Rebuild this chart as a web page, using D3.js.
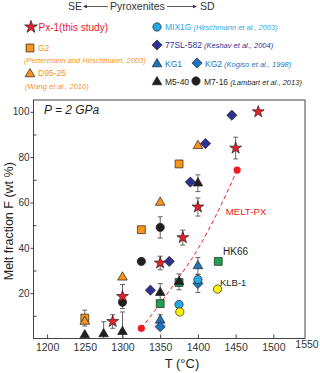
<!DOCTYPE html>
<html>
<head>
<meta charset="utf-8">
<script src="https://cdn.jsdelivr.net/npm/d3@7"></script>
<style>
  body { margin: 0; background: #fff; }
  svg { display: block; font-family: 'Liberation Sans', Arial, sans-serif; }
</style>
</head>
<body>
<svg id="chart" width="320" height="373"></svg>
<script>
// data: [T (°C), F (wt%), error]
const px1 = [[1287, 7.5, 3], [1300, 18.5, 5.3], [1350, 33.3, 3], [1380, 44.5, 3.3], [1400, 58, 4], [1450, 84, 4.8], [1480, 100, 0]]
const g2 = [[1250, 9, 3.5], [1325, 48, 0], [1375, 77, 0]]
const d9525 = [[1250, 7.5, 0], [1300, 27, 0], [1350, 60, 0], [1400, 85, 0]]
const mix1g = [[1375, 15, 0], [1400, 26, 0]]
const sl582 = [[1337, 21.3, 0], [1362, 34, 0], [1390, 69, 0], [1410, 86, 0], [1445, 98.5, 0]]
const kg1 = [[1350, 8, 2.5], [1400, 32, 3.7]]
const kg2 = [[1350, 5.2, 0], [1400, 24.3, 4]]
const m540 = [[1250, 1.5, 0], [1275, 2, 5.4], [1300, 3, 8.7], [1350, 20.2, 4], [1375, 25, 3.5], [1400, 68.5, 3.7]]
const m716 = [[1300, 16, 0], [1325, 34, 0], [1350, 49, 4.7]]
const hk66 = [[1350, 15.4, 0], [1375, 24.7, 0], [1427, 34, 0]]
const klb1 = [[1376, 11.7, 0], [1426, 21.8, 0]]
const meltPxT = [1325, 1350, 1375, 1400, 1425, 1452]
const meltPxF = [4.5, 15.5, 27, 39.5, 55, 74.3]

const xTicks = [1200, 1250, 1300, 1350, 1400, 1450, 1500]
const yTicks = [20, 40, 60, 80, 100]
const yMinor = [10, 30, 50, 70, 90]

const RED = '#e8202a'
const ORANGE = '#f7941d'
const LIGHTBLUE = '#27aae1'
const NAVY = '#2e3192'
const BLUE = '#1c75bc'
const BLACK = '#231f20'
const GREEN = '#1fa251'
const YELLOW = '#fff200'

const svg = d3.select('#chart')
const x = d3.scaleLinear().domain([1182, 1542]).range([33.5, 305])
const y = d3.scaleLinear().domain([0, 105.2]).range([338.5, 100])

const diamond = {
  draw (ctx, size) {
    const r = Math.sqrt(size / 2)
    ctx.moveTo(0, -r)
    ctx.lineTo(r, 0)
    ctx.lineTo(0, r)
    ctx.lineTo(-r, 0)
    ctx.closePath()
  }
}

const STAR = 44
const SQUARE = 62
const CIRCLE = 54
const TRI = 40
const DIAM = 52

// axes
const xAxis = svg.append('g')
  .attr('transform', `translate(0,${y(0)})`)
  .call(d3.axisBottom(x).tickValues(xTicks).tickFormat(d3.format('d')).tickSize(-4).tickPadding(5))
xAxis.select('.domain').remove()
xAxis.selectAll('text').attr('font-size', 10.5).attr('fill', '#333').attr('font-family', null)
xAxis.selectAll('line').attr('stroke', '#444')

svg.append('text')
  .attr('x', 307).attr('y', 348)
  .attr('text-anchor', 'middle')
  .attr('font-size', 10.5).attr('fill', '#333')
  .text('1550')

const yAxis = svg.append('g')
  .attr('transform', `translate(${x.range()[0]},0)`)
  .call(d3.axisLeft(y).tickValues(yTicks).tickSize(3).tickPadding(1))
yAxis.select('.domain').remove()
yAxis.selectAll('text').attr('font-size', 10).attr('fill', '#333').attr('font-family', null)
yAxis.selectAll('line').attr('stroke', '#444')

const yAxisMinor = svg.append('g')
  .attr('transform', `translate(${x.range()[0]},0)`)
  .call(d3.axisLeft(y).tickValues(yMinor).tickSize(-3).tickFormat(''))
yAxisMinor.select('.domain').remove()
yAxisMinor.selectAll('line').attr('stroke', '#444')

svg.append('rect')
  .attr('x', x.range()[0]).attr('y', y.range()[1])
  .attr('width', x.range()[1] - x.range()[0])
  .attr('height', y.range()[0] - y.range()[1])
  .attr('fill', 'none').attr('stroke', '#444').attr('stroke-width', 1)

svg.append('text')
  .attr('transform', `translate(13,${(y.range()[0] + y.range()[1]) / 2 + 2}) rotate(-90)`)
  .attr('text-anchor', 'middle')
  .attr('font-size', 12.5).attr('fill', BLACK)
  .text('Melt fraction F (wt %)')

svg.append('text')
  .attr('x', 182).attr('y', 368)
  .attr('text-anchor', 'middle')
  .attr('font-size', 13).attr('fill', BLACK)
  .text('T (°C)')

svg.append('text')
  .attr('x', 44).attr('y', 114)
  .attr('font-size', 12).attr('font-style', 'italic').attr('fill', BLACK)
  .text('P = 2 GPa')

const plot = svg.append('g')

// MELT-PX trend
const meltPx = meltPxT.map((t, i) => [t, meltPxF[i]])
plot.append('path')
  .datum(meltPx)
  .attr('d', d3.line().x(d => x(d[0])).y(d => y(d[1])).curve(d3.curveMonotoneX))
  .attr('fill', 'none').attr('stroke', '#ed1c24')
  .attr('stroke-width', 1).attr('stroke-dasharray', '4,3')
plot.selectAll(null)
  .data([meltPx[0], meltPx[meltPx.length - 1]])
  .enter().append('circle')
  .attr('cx', d => x(d[0])).attr('cy', d => y(d[1]))
  .attr('r', 3.6).attr('fill', '#ed1c24')
plot.append('text')
  .attr('x', 246).attr('y', 214.5)
  .attr('text-anchor', 'middle')
  .attr('font-size', 9.7).attr('fill', '#ed1c24')
  .text('MELT-PX')

function drawErrors (data) {
  data.filter(d => d[2] > 0).forEach(d => {
    const cx = x(d[0])
    const lo = y(Math.max(0, d[1] - d[2]))
    const hi = y(d[1] + d[2])
    plot.append('line')
      .attr('x1', cx).attr('x2', cx).attr('y1', lo).attr('y2', hi)
      .attr('stroke', '#555').attr('stroke-width', 0.9)
    plot.append('line')
      .attr('x1', cx - 2.5).attr('x2', cx + 2.5).attr('y1', hi).attr('y2', hi)
      .attr('stroke', '#555').attr('stroke-width', 0.9)
    if (d[1] - d[2] > 0) {
      plot.append('line')
        .attr('x1', cx - 2.5).attr('x2', cx + 2.5).attr('y1', lo).attr('y2', lo)
        .attr('stroke', '#555').attr('stroke-width', 0.9)
    }
  })
}

function drawSeries (data, type, size, fill) {
  plot.selectAll(null)
    .data(data)
    .enter().append('path')
    .attr('d', d3.symbol().type(type).size(size))
    .attr('transform', d => `translate(${x(d[0])},${y(d[1])})`)
    .attr('fill', fill)
    .attr('stroke', BLACK)
    .attr('stroke-width', 0.7)
}

const layers = [
  [g2, d3.symbolSquare, SQUARE, ORANGE],
  [d9525, d3.symbolTriangle, TRI, ORANGE],
  [sl582, diamond, DIAM, NAVY],
  [hk66, d3.symbolSquare, SQUARE, GREEN],
  [kg1, d3.symbolTriangle, TRI, BLUE],
  [kg2, diamond, DIAM, BLUE],
  [mix1g, d3.symbolCircle, CIRCLE, LIGHTBLUE],
  [klb1, d3.symbolCircle, CIRCLE, YELLOW],
  [m540, d3.symbolTriangle, TRI, BLACK],
  [m716, d3.symbolCircle, CIRCLE, BLACK],
  [px1, d3.symbolStar, STAR, RED]
]
layers.forEach(l => drawErrors(l[0]))
layers.forEach(l => drawSeries(l[0], l[1], l[2], l[3]))

plot.append('text')
  .attr('x', 223).attr('y', 254.5)
  .attr('font-size', 10).attr('fill', BLACK)
  .text('HK66')
plot.append('text')
  .attr('x', 220).attr('y', 285.5)
  .attr('font-size', 9.5).attr('fill', BLACK)
  .text('KLB-1')

// header
const header = svg.append('g').attr('fill', '#333').attr('font-size', 10.5)
header.append('text').attr('x', 68).attr('y', 10).text('SE')
header.append('text').attr('x', 110).attr('y', 10).text('Pyroxenites')
header.append('text').attr('x', 200).attr('y', 10).text('SD')
function arrow (x1, x2) {
  const dir = Math.sign(x2 - x1)
  header.append('line')
    .attr('x1', x1).attr('x2', x2 - dir * 3).attr('y1', 6.5).attr('y2', 6.5)
    .attr('stroke', '#333').attr('stroke-width', 0.8)
  header.append('path')
    .attr('d', `M${x2},6.5 L${x2 - dir * 4},4.8 L${x2 - dir * 4},8.2 Z`)
    .attr('fill', '#333')
}
arrow(108, 83)
arrow(167, 197)

// legend
const legend = svg.append('g')
function legendSymbol (lx, ly, type, size, fill) {
  legend.append('path')
    .attr('d', d3.symbol().type(type).size(size))
    .attr('transform', `translate(${lx},${ly})`)
    .attr('fill', fill).attr('stroke', BLACK).attr('stroke-width', 0.7)
}
function legendText (lx, ly, label, ref, color, fs) {
  const t = legend.append('text')
    .attr('x', lx).attr('y', ly)
    .attr('font-size', fs || 8.5).attr('fill', color)
  t.append('tspan').text(label)
  if (ref) {
    t.append('tspan').attr('font-style', 'italic').attr('font-size', 7.5).text(' ' + ref)
  }
}

legendSymbol(31, 27, d3.symbolStar, 50, RED)
legendText(38.5, 30.5, 'Px-1(this study)', null, RED, 10)
legendSymbol(30, 48, d3.symbolSquare, SQUARE, ORANGE)
legendText(38, 51, 'G2', null, ORANGE)
legend.append('text').attr('x', 24).attr('y', 62.6)
  .attr('font-size', 7.5).attr('font-style', 'italic').attr('fill', ORANGE)
  .text('(Pertermann and Hirschmann, 2003)')
legendSymbol(30, 74, d3.symbolTriangle, TRI, ORANGE)
legendText(38, 76, 'D95-25', null, ORANGE)
legend.append('text').attr('x', 25).attr('y', 88.6)
  .attr('font-size', 7.5).attr('font-style', 'italic').attr('fill', ORANGE)
  .text('(Wang et al., 2010)')

legendSymbol(157, 27, d3.symbolCircle, CIRCLE, LIGHTBLUE)
legendText(165, 30, 'MIX1G', '(Hirschmann et al., 2003)', LIGHTBLUE)
legendSymbol(157, 45, diamond, DIAM, NAVY)
legendText(165, 48, '77SL-582', '(Keshav et al., 2004)', NAVY)
legendSymbol(157, 64, d3.symbolTriangle, TRI, BLUE)
legendText(165, 66.5, 'KG1', null, BLUE)
legendSymbol(197, 63, diamond, DIAM, BLUE)
legendText(205, 66.5, 'KG2', '(Kogiso et al., 1998)', BLUE)
legendSymbol(157, 82, d3.symbolTriangle, TRI, BLACK)
legendText(165, 84.5, 'M5-40', null, BLACK)
legendSymbol(196, 81, d3.symbolCircle, CIRCLE, BLACK)
legendText(204, 84.5, 'M7-16', '(Lambart et al., 2013)', BLACK)
</script>
</body>
</html>
